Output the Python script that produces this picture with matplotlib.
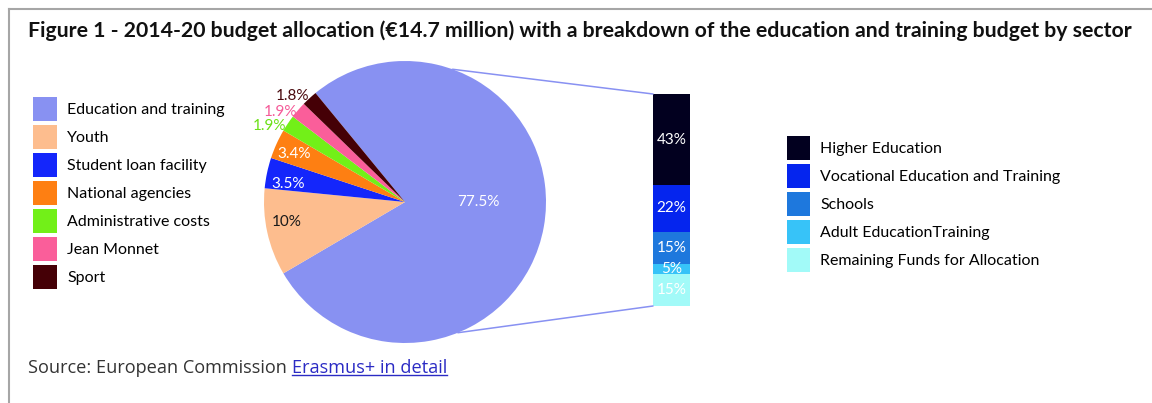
import numpy as np
import matplotlib
matplotlib.use("Agg")
import matplotlib.pyplot as plt
from matplotlib.patches import Patch, ConnectionPatch
from matplotlib.lines import Line2D

W, H, DPI = 1152, 403, 100

# --- data -------------------------------------------------------------
budget_labels = ["Education and training", "Youth", "Student loan facility",
                 "National agencies", "Administrative costs", "Jean Monnet", "Sport"]
budget_pct = [77.5, 10, 3.5, 3.4, 1.9, 1.9, 1.8]
budget_text = ["77.5%", "10%", "3.5%", "3.4%", "1.9%", "1.9%", "1.8%"]

sector_labels = ["Higher Education", "Vocational Education and Training", "Schools",
                 "Adult EducationTraining", "Remaining Funds for Allocation"]
sector_pct = [43, 22, 15, 5, 15]

title = ("Figure 1 - 2014-20 budget allocation (\u20ac14.7 million) with a breakdown "
         "of the education and training budget by sector")
source = "Source: European Commission "
link = "Erasmus+ in detail"

# --- style ------------------------------------------------------------
budget_colors = ["#8891F2", "#FDBD8E", "#1426FB", "#FE7F12", "#72F018", "#FA5E9A", "#450006"]
label_colors = ["white", "#1a1a1a", "white", "white", "#6BE016", "#F55A98", "#4A0A0E"]
label_r = [0.52, 0.85, 0.84, 0.86, 1.10, 1.09, 1.10]
label_dang = [10, -3, 3, 1, 4.4, 4.7, 4]
sector_colors = ["#02001F", "#0525EE", "#1E78DD", "#37C3F8", "#A2FAF8"]
FONT = "Lato"
FS = 11
LFS = 11.5  # legend font
lfs_px = LFS * DPI / 72

fig = plt.figure(figsize=(W / DPI, H / DPI), dpi=DPI)
fig.patch.set_facecolor("white")

# frame lines (left + top)
frame_c = "#A6A6A6"
fig.add_artist(Line2D([9 / W, 9 / W], [0, 1 - 9 / H], transform=fig.transFigure,
                      color=frame_c, lw=1.5))
fig.add_artist(Line2D([9 / W, 1], [1 - 9 / H, 1 - 9 / H], transform=fig.transFigure,
                      color=frame_c, lw=1.5))

# --- pie --------------------------------------------------------------
cx, cy, r = 405, 202, 141
ax_pie = fig.add_axes([(cx - r) / W, (H - cy - r) / H, 2 * r / W, 2 * r / H])
wedges, _ = ax_pie.pie(budget_pct, colors=budget_colors, startangle=129.4,
                       counterclock=False, radius=1,
                       wedgeprops=dict(linewidth=0))
ax_pie.set_xlim(-1, 1)
ax_pie.set_ylim(-1, 1)
ax_pie.axis("off")
for w, txt, col, rr, da in zip(wedges, budget_text, label_colors, label_r, label_dang):
    ang = np.deg2rad((w.theta1 + w.theta2) / 2 + da)
    ax_pie.text(rr * np.cos(ang), rr * np.sin(ang), txt, color=col, ha="center",
                va="center", fontsize=FS, family=FONT)

# --- stacked bar ------------------------------------------------------
ax_bar = fig.add_axes([653 / W, (H - 306) / H, 37 / W, 212 / H])
top = 100
for v, c in zip(sector_pct, sector_colors):
    ax_bar.bar(0, v, bottom=top - v, width=1, color=c, linewidth=0)
    ax_bar.text(0, top - v / 2, f"{v}%", color="white", ha="center", va="center",
                fontsize=FS, family=FONT)
    top -= v
ax_bar.set_xlim(-0.5, 0.5)
ax_bar.set_ylim(0, 100)
ax_bar.axis("off")

# connectors pie -> bar
for ang, ybar in [(70.3, 100), (-68, 0)]:
    a = np.deg2rad(ang)
    con = ConnectionPatch(xyA=(np.cos(a), np.sin(a)), coordsA=ax_pie.transData,
                          xyB=(-0.5, ybar), coordsB=ax_bar.transData,
                          color="#8891F2", lw=1.1)
    fig.add_artist(con)

# --- legends ----------------------------------------------------------
leg_kw = dict(loc="upper left", frameon=False, borderpad=0, borderaxespad=0,
              prop={"family": FONT, "size": LFS}, handleheight=22 / (lfs_px * 0.72),
              labelspacing=4.3 / lfs_px, handletextpad=10 / lfs_px)
fig.legend(handles=[Patch(facecolor=c, label=l, linewidth=0)
                    for l, c in zip(budget_labels, budget_colors)],
           bbox_to_anchor=(33 / W, 1 - 97 / H), handlelength=24 / lfs_px, **leg_kw)
fig.legend(handles=[Patch(facecolor=c, label=l, linewidth=0)
                    for l, c in zip(sector_labels, sector_colors)],
           bbox_to_anchor=(787 / W, 1 - 136 / H), handlelength=23 / lfs_px, **leg_kw)

# --- title and source -------------------------------------------------
rend = fig.canvas.get_renderer()
t = fig.text(28 / W, 1 - 31 / H, title, fontsize=15, fontweight="bold",
             family=FONT, va="center", ha="left", color="#111111")
tw = t.get_window_extent(rend).width
t.set_fontsize(15 * 1112 / tw)

s = fig.text(28 / W, 1 - 368 / H, source, fontsize=12, family="Open Sans",
             va="center", ha="left", color="#333333")
sw = s.get_window_extent(rend).width
s.set_fontsize(12 * 262 / sw)
sb = s.get_window_extent(rend)
lk = fig.text(sb.x1 / W, 1 - 368 / H, link, fontsize=s.get_fontsize(),
              family="Open Sans", va="center", ha="left", color="#2B2BC4")
lb = lk.get_window_extent(rend)
uy = (lb.y0 + 2) / H
fig.add_artist(Line2D([lb.x0 / W, lb.x1 / W], [uy, uy], transform=fig.transFigure,
                      color="#2B2BC4", lw=1))

fig.savefig("out.png", dpi=DPI)
